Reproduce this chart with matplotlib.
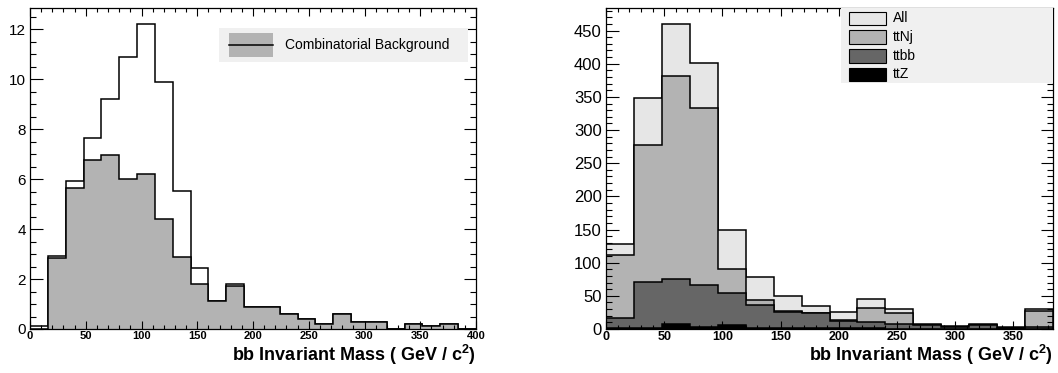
import numpy as np
import matplotlib.pyplot as plt
from matplotlib.patches import Rectangle
from matplotlib.ticker import MultipleLocator

plt.rcParams['font.family'] = ['Liberation Sans', 'DejaVu Sans']
plt.rcParams['mathtext.fontset'] = 'custom'
plt.rcParams['mathtext.rm'] = 'Liberation Sans'
plt.rcParams['mathtext.bf'] = 'Liberation Sans:bold'

# left panel: 16 GeV bins, 0-400
edges_l = np.arange(0, 401, 16)
total_l = [0.12, 2.92, 5.94, 7.64, 9.21, 10.91, 12.22, 9.89, 5.54, 2.46, 1.13, 1.80, 0.87,
           0.87, 0.60, 0.39, 0.20, 0.59, 0.29, 0.29, 0.0, 0.21, 0.12, 0.21, 0.0]
combbg_l = [0.0, 2.83, 5.63, 6.77, 6.96, 6.01, 6.21, 4.42, 2.90, 1.79, 1.13, 1.72, 0.87,
            0.87, 0.60, 0.39, 0.20, 0.59, 0.29, 0.29, 0.0, 0.21, 0.12, 0.21, 0.0]

# right panel: 24 GeV bins, 0-384
edges_r = np.arange(0, 385, 24)
all_r = [128, 348, 460, 401, 150, 78, 50, 35, 25, 45, 29.5, 7, 4, 7, 2.5, 30]
ttnj_r = [111, 277, 381, 333, 90, 43, 27, 24.5, 14, 32, 24, 6.5, 3.5, 6.5, 2.2, 27]
ttbb_r = [16, 71, 75, 66, 55, 36, 26, 23.5, 12.6, 11, 7.5, 5.5, 3, 5.5, 2, 3.5]
ttz_r = [1.5, 2, 7.5, 2.5, 6, 1.5, 1, 1, 1.5, 1, 0.5, 0.5, 0.5, 0.5, 1, 0.5]
names_r = ['All', 'ttNj', 'ttbb', 'ttZ']
colors_r = ['#e6e6e6', '#b3b3b3', '#666666', '#000000']

xlabel = r'bb Invariant Mass ( GeV / $\mathbf{c^{2}}$)'


def draw_hist(ax, vals, edges, color):
    if color is not None:
        ax.stairs(vals, edges, fill=True, color=color, lw=0)
    ax.stairs(vals, edges, color='k', lw=1.1)


def root_axes(ax, xmaj, xmin, ymaj, ymin, xsize, ysize):
    ax.xaxis.set_major_locator(MultipleLocator(xmaj))
    ax.xaxis.set_minor_locator(MultipleLocator(xmin))
    ax.yaxis.set_major_locator(MultipleLocator(ymaj))
    ax.yaxis.set_minor_locator(MultipleLocator(ymin))
    ax.tick_params(which='both', direction='in', top=True, right=True, width=0.8)
    ax.tick_params(axis='y', which='major', length=9, labelsize=ysize, pad=3)
    ax.tick_params(axis='y', which='minor', length=4.5)
    ax.tick_params(axis='x', which='major', length=6, labelsize=xsize, pad=1.5)
    ax.tick_params(axis='x', which='minor', length=3)
    for lab in ax.get_xticklabels():
        lab.set_fontweight('bold')
    for s in ax.spines.values():
        s.set_linewidth(0.9)


fig = plt.figure(figsize=(10.58, 3.73), dpi=100)
H = 373.0
W = 1058.0
axL = fig.add_axes([30 / W, 1 - 329 / H, 446 / W, 321 / H])
axR = fig.add_axes([606 / W, 1 - 329 / H, 447 / W, 321 / H])

# left
draw_hist(axL, total_l, edges_l, None)
draw_hist(axL, combbg_l, edges_l, '#b3b3b3')
axL.set_xlim(0, 400)
axL.set_ylim(0, 12.86)
root_axes(axL, 50, 10, 2, 0.5, 8, 11)
axL.text(1.0, -0.08, xlabel, transform=axL.transAxes, ha='right', va='center',
         fontsize=13, fontweight='bold')

# legend left (drawn by hand, ROOT style)
axL.add_patch(Rectangle((219 / W, 1 - 62 / H), 249 / W, 34 / H, transform=fig.transFigure,
                        facecolor='#f0f0f0', edgecolor='none', zorder=5))
axL.add_patch(Rectangle((229 / W, 1 - 57 / H), 44 / W, 24 / H, transform=fig.transFigure,
                        facecolor='#b3b3b3', edgecolor='none', zorder=6))
axL.plot([229 / W, 273 / W], [1 - 45 / H, 1 - 45 / H], transform=fig.transFigure,
         color='k', lw=1.1, zorder=7, clip_on=False)
fig.text(285 / W, 1 - 45 / H, 'Combinatorial Background', fontsize=10, va='center', zorder=8)

# right
for vals, c in zip([all_r, ttnj_r, ttbb_r, ttz_r], colors_r):
    draw_hist(axR, vals, edges_r, c)
axR.set_xlim(0, 384)
axR.set_ylim(0, 484)
root_axes(axR, 50, 10, 50, 10, 9, 12)
axR.text(1.0, -0.08, xlabel, transform=axR.transAxes, ha='right', va='center',
         fontsize=13, fontweight='bold')

axR.add_patch(Rectangle((841 / W, 1 - 83 / H), 212 / W, 75 / H, transform=fig.transFigure,
                        facecolor='#f0f0f0', edgecolor='none', zorder=5, clip_on=False))
row_y = [18.5, 37, 56, 74.5]
for name, c, yy in zip(names_r, colors_r, row_y):
    axR.add_patch(Rectangle((849 / W, 1 - (yy + 6.5) / H), 37 / W, 13 / H,
                            transform=fig.transFigure, facecolor=c, edgecolor='k',
                            lw=0.8, zorder=6, clip_on=False))
    fig.text(893 / W, 1 - yy / H, name, fontsize=10, va='center', zorder=8)

fig.savefig('out.png', dpi=100)
